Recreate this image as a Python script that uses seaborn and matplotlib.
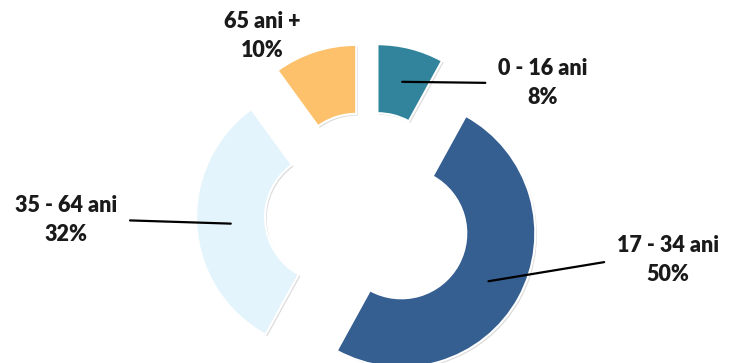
import numpy as np
import seaborn as sns
import matplotlib.pyplot as plt
import matplotlib.patheffects as pe

# data
groups = ['0 - 16 ani', '17 - 34 ani', '35 - 64 ani', '65 ani +']
shares = [8, 50, 32, 10]
colors = ['#31849B', '#355E91', '#E4F4FD', '#FDC16C']

# layout (pixel-like data coords, y up)
W, H = 737, 363
center = (368, 148)
radius = 134
ring = 69
explode = 38
label_pos = [(543, 280), (668, 103), (66, 143), (262, 327)]
label_side = ['right', 'right', 'left', None]

sns.set_theme(style='white')
plt.rcParams['font.family'] = ['Lato', 'DejaVu Sans']

fig = plt.figure(figsize=(W / 100, H / 100), dpi=100)
ax = fig.add_axes([0, 0, 1, 1])

wedges, _ = ax.pie(shares, colors=colors, startangle=90, counterclock=False,
                   explode=[explode] * len(shares), radius=radius, center=center,
                   wedgeprops=dict(width=ring, edgecolor='white', linewidth=1.5))
for w in wedges:
    w.set_path_effects([pe.SimplePatchShadow(offset=(1.2, -1.2), shadow_rgbFace='#999999', alpha=0.35),
                        pe.Normal()])

ax.set_xlim(0, W)
ax.set_ylim(0, H)
ax.set_aspect('equal')
ax.axis('off')

for w, g, s, pos, side in zip(wedges, groups, shares, label_pos, label_side):
    txt = f'{g}\n{s}%'
    kw = dict(ha='center', va='center', fontsize=15.5, fontweight='heavy',
              color='#1a1a1a', linespacing=1.45)
    if side is None:
        ax.text(pos[0], pos[1], txt, **kw)
        continue
    ang = np.deg2rad((w.theta1 + w.theta2) / 2)
    rmid = w.r - w.width / 2
    anchor = (w.center[0] + rmid * np.cos(ang), w.center[1] + rmid * np.sin(ang))
    ax.annotate(txt, xy=anchor, xytext=pos, **kw,
                arrowprops=dict(arrowstyle='-', color='black', lw=1.6,
                                relpos=(0, 0.5) if side == 'right' else (1, 0.5),
                                shrinkA=7, shrinkB=0))

fig.savefig('out.png', dpi=100, facecolor='white')
